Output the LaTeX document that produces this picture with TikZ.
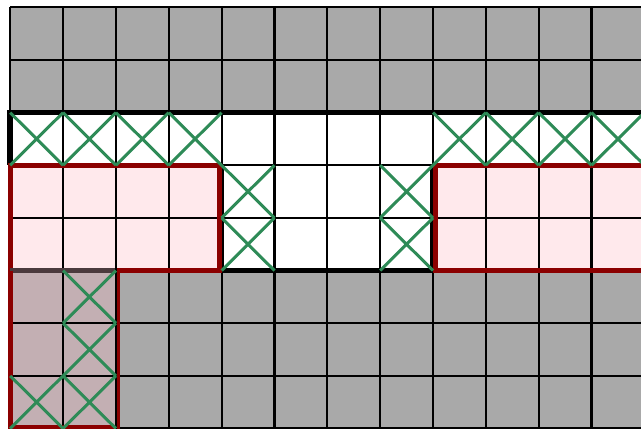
\documentclass[tikz,border=0pt]{standalone}
\definecolor{cellgray}{RGB}{169,169,169}
\definecolor{pinkfill}{RGB}{255,233,236}
\definecolor{mauve}{RGB}{195,175,179}
\definecolor{mauveline}{RGB}{75,58,61}
\definecolor{dred}{RGB}{139,0,0}
\definecolor{xgreen}{RGB}{46,139,87}
\tikzset{
  gridline/.style={black, line width=2.2pt},
  wall/.style={black, line width=5.5pt},
  redwall/.style={dred, line width=5pt},
  cross/.style={xgreen, line width=3pt},
}
\begin{document}
\begin{tikzpicture}[x=1pt,y=-1pt]
\useasboundingbox (0,0) rectangle (641,429);
\fill[white] (0,0) rectangle (641,429);
\clip (0,0) rectangle (641,429);
\begin{scope}[shift={(10.2,7.3)}, x=52.85pt, y=-52.65pt]
  % fills
  \fill[cellgray] (0,0) rectangle (12,2);
  \fill[cellgray] (2,5) rectangle (12,8);
  \fill[mauve] (0,5) rectangle (2,8);
  \fill[pinkfill] (0,3) rectangle (4,5);
  \fill[pinkfill] (8,3) rectangle (12,5);
  % grid
  \foreach \i in {0,...,12} \draw[gridline] (\i,0) -- (\i,8);
  \foreach \j in {0,...,8} \draw[gridline] (0,\j) -- (12,\j);
  % channel walls
  \draw[wall] (12.3,2) -- (0,2) -- (0,3);
  \draw[wall] (4,3) -- (4,5) -- (8,5) -- (8,3);
  % pink regions
  \draw[redwall] (0,3) rectangle ([xshift=-2.5pt]4,5);
  \draw[redwall] ([xshift=2.5pt]8,3) rectangle (12.3,5);
  % mauve region
  \draw[mauveline, line width=5.5pt] (0,5) -- (2,5);
  \draw[redwall] (0,5) -- ([yshift=1pt]0,8) -- ([xshift=2pt,yshift=1pt]2,8) -- ([xshift=2pt]2,5);
  \draw[gridline] (2,4.9) -- (2,8);
  % crosses
  \foreach \c/\r in {0/2,1/2,2/2,3/2,8/2,9/2,10/2,11/2,4/3,4/4,7/3,7/4,1/5,1/6,0/7,1/7} {
    \draw[cross] (\c,\r) -- ++(1,1) (\c+1,\r) -- ++(-1,1);
  }
\end{scope}
\end{tikzpicture}
\end{document}
